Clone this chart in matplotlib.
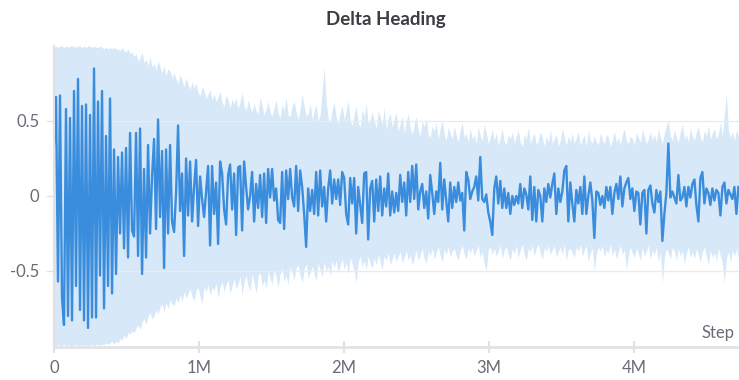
import matplotlib
matplotlib.use("Agg")
import matplotlib.pyplot as plt
import numpy as np
from matplotlib.ticker import FuncFormatter

plt.rcParams["font.family"] = ["Lato", "DejaVu Sans"]
plt.rcParams["axes.unicode_minus"] = False

# mean delta heading, one value every ~14k steps
heading = [
    0.35, 0.66, -0.57, 0.67, -0.68, -0.86, 0.58, -0.80, 0.52, -0.83,
    0.70, -0.60, 0.78, -0.76, 0.60, -0.83, 0.61, -0.88, 0.54, -0.81,
    0.85, -0.81, 0.63, -0.53, 0.70, -0.75, 0.40, -0.60, 0.65, -0.65,
    0.31, -0.52, 0.26, -0.25, 0.29, -0.35, 0.32, -0.41, 0.42, -0.23,
    -0.27, 0.42, -0.40, 0.45, -0.52, 0.18, -0.41, 0.34, -0.25, 0.13,
    0.38, -0.22, 0.51, -0.14, 0.30, -0.48, 0.31, -0.25, 0.34, -0.17,
    -0.24, 0.02, 0.47, -0.10, 0.15, -0.40, 0.25, -0.13, 0.23, -0.17,
    0.06, 0.24, -0.20, 0.13, -0.02, -0.14, 0.03, 0.20, -0.33, 0.20,
    -0.12, 0.09, -0.32, 0.23, 0.15, -0.09, -0.19, 0.14, 0.21, -0.09,
    0.15, -0.26, 0.19, 0.20, -0.23, 0.23, 0.06, -0.09, 0.00, 0.16,
    -0.17, 0.08, -0.08, 0.14, -0.14, 0.15, -0.18, 0.18, -0.01, 0.18,
    -0.03, 0.05, -0.16, -0.18, 0.16, -0.22, 0.17, -0.02, 0.18, -0.01,
    -0.07, 0.20, -0.10, 0.17, 0.06, -0.12, -0.34, 0.05, -0.10, 0.04,
    -0.12, 0.16, -0.13, 0.17, -0.07, 0.06, -0.17, 0.05, 0.17, -0.05,
    0.11, -0.02, 0.11, -0.06, 0.16, 0.12, -0.12, -0.19, 0.12, -0.05,
    0.12, -0.25, 0.06, -0.06, -0.18, 0.15, 0.16, -0.29, 0.05, 0.10,
    -0.17, 0.11, -0.10, 0.13, -0.13, 0.05, -0.07, 0.15, -0.13, 0.03,
    -0.11, 0.02, -0.10, 0.14, -0.04, 0.09, -0.13, 0.16, -0.04, 0.20,
    -0.02, 0.21, -0.09, 0.03, 0.08, -0.08, 0.03, -0.15, 0.14, 0.02,
    -0.12, 0.03, -0.04, 0.22, -0.09, 0.11, -0.03, -0.17, 0.09, -0.08,
    0.06, -0.04, 0.09, -0.03, 0.02, -0.23, 0.16, 0.11, -0.02, 0.03,
    0.06, 0.13, -0.03, 0.26, -0.02, -0.04, 0.01, -0.11, -0.17, -0.26,
    0.05, 0.13, -0.05, 0.10, -0.08, 0.05, -0.08, 0.02, -0.12, 0.00,
    -0.06, 0.00, -0.05, 0.08, -0.08, 0.05, 0.01, -0.09, 0.13, -0.16,
    0.06, -0.17, 0.04, 0.00, -0.17, 0.05, -0.04, 0.08, -0.01, 0.08,
    0.15, -0.12, 0.05, -0.04, 0.03, 0.17, 0.20, -0.17, 0.09, -0.05,
    -0.17, 0.04, -0.05, 0.06, -0.12, 0.13, -0.12, 0.00, 0.09, -0.03,
    -0.28, 0.03, 0.02, -0.06, 0.00, -0.08, 0.06, -0.03, 0.06, -0.12,
    0.02, 0.08, -0.02, 0.13, -0.07, 0.05, 0.09, 0.12, -0.02, 0.05,
    -0.10, 0.03, 0.02, -0.19, 0.02, 0.04, -0.25, 0.04, 0.07, -0.05,
    -0.11, 0.04, -0.04, 0.03, -0.30, -0.12, 0.02, 0.35, -0.01, 0.03,
    -0.01, -0.05, 0.14, -0.03, -0.01, 0.06, -0.07, 0.06, -0.01, 0.08,
    0.11, -0.06, -0.17, 0.12, 0.16, -0.05, 0.05, 0.02, -0.06, 0.05,
    -0.03, 0.04, 0.02, -0.13, 0.06, 0.09, -0.05, 0.04, 0.01, -0.02,
    0.06, -0.12, 0.06,
]

# max / min over runs at the same steps
band_hi = [
    0.99, 1.00, 0.99, 1.00, 1.00, 0.99, 1.00, 0.99, 1.00, 1.00,
    1.00, 0.99, 1.00, 1.00, 0.99, 1.00, 0.99, 1.00, 1.00, 0.99,
    1.00, 0.99, 0.99, 1.00, 0.99, 0.98, 0.99, 0.98, 0.99, 0.98,
    0.99, 0.98, 0.98, 0.97, 0.99, 0.97, 0.96, 0.98, 0.95, 0.96,
    0.93, 0.95, 0.90, 0.92, 0.96, 0.89, 0.91, 0.87, 0.93, 0.86,
    0.88, 0.84, 0.90, 0.86, 0.82, 0.87, 0.80, 0.85, 0.83, 0.79,
    0.82, 0.78, 0.75, 0.81, 0.77, 0.73, 0.79, 0.74, 0.71, 0.76,
    0.72, 0.75, 0.69, 0.67, 0.73, 0.70, 0.65, 0.68, 0.71, 0.64,
    0.68, 0.63, 0.66, 0.70, 0.62, 0.60, 0.67, 0.64, 0.59, 0.65,
    0.61, 0.66, 0.58, 0.63, 0.69, 0.60, 0.57, 0.64, 0.59, 0.56,
    0.62, 0.57, 0.55, 0.66, 0.60, 0.54, 0.58, 0.63, 0.56, 0.53,
    0.59, 0.64, 0.55, 0.52, 0.61, 0.57, 0.66, 0.54, 0.53, 0.60,
    0.63, 0.56, 0.51, 0.58, 0.68, 0.60, 0.53, 0.55, 0.62, 0.51,
    0.57, 0.61, 0.50, 0.54, 0.70, 0.86, 0.63, 0.52, 0.49, 0.58,
    0.62, 0.53, 0.48, 0.56, 0.60, 0.51, 0.57, 0.64, 0.50, 0.47,
    0.55, 0.60, 0.49, 0.46, 0.58, 0.53, 0.62, 0.48, 0.51, 0.56,
    0.50, 0.45, 0.57, 0.53, 0.47, 0.59, 0.44, 0.52, 0.55, 0.46,
    0.51, 0.56, 0.43, 0.48, 0.53, 0.42, 0.50, 0.55, 0.45, 0.41,
    0.48, 0.53, 0.44, 0.40, 0.50, 0.46, 0.52, 0.41, 0.39, 0.47,
    0.43, 0.49, 0.38, 0.45, 0.51, 0.41, 0.37, 0.46, 0.42, 0.38,
    0.47, 0.40, 0.36, 0.44, 0.49, 0.39, 0.42, 0.36, 0.45, 0.38,
    0.41, 0.35, 0.46, 0.40, 0.37, 0.48, 0.42, 0.35, 0.39, 0.44,
    0.37, 0.42, 0.34, 0.39, 0.45, 0.36, 0.34, 0.41, 0.38, 0.43,
    0.35, 0.40, 0.44, 0.36, 0.33, 0.41, 0.38, 0.46, 0.35, 0.39,
    0.42, 0.34, 0.37, 0.43, 0.39, 0.33, 0.40, 0.36, 0.44, 0.35,
    0.38, 0.41, 0.33, 0.37, 0.45, 0.39, 0.34, 0.40, 0.36, 0.42,
    0.35, 0.39, 0.43, 0.34, 0.38, 0.41, 0.33, 0.44, 0.37, 0.35,
    0.40, 0.36, 0.34, 0.42, 0.38, 0.35, 0.41, 0.39, 0.33, 0.37,
    0.43, 0.36, 0.39, 0.34, 0.41, 0.45, 0.37, 0.35, 0.40, 0.38,
    0.34, 0.42, 0.39, 0.36, 0.44, 0.40, 0.35, 0.38, 0.43, 0.37,
    0.41, 0.36, 0.45, 0.39, 0.35, 0.42, 0.47, 0.50, 0.40, 0.37,
    0.44, 0.39, 0.36, 0.43, 0.48, 0.38, 0.41, 0.36, 0.45, 0.40,
    0.37, 0.43, 0.46, 0.39, 0.36, 0.44, 0.40, 0.47, 0.38, 0.42,
    0.45, 0.38, 0.41, 0.49, 0.40, 0.55, 0.68, 0.44, 0.39, 0.43,
    0.37, 0.44, 0.40,
]

band_lo = [
    -0.99, -1.00, -0.99, -1.00, -1.00, -0.99, -1.00, -0.99, -1.00, -1.00,
    -1.00, -0.99, -1.00, -1.00, -0.99, -1.00, -0.99, -1.00, -1.00, -0.99,
    -1.00, -0.99, -0.99, -1.00, -0.99, -0.99, -0.98, -0.99, -0.98, -0.97,
    -0.99, -0.97, -0.98, -0.95, -0.96, -0.93, -0.95, -0.91, -0.92, -0.90,
    -0.91, -0.88, -0.86, -0.89, -0.84, -0.82, -0.86, -0.80, -0.78, -0.82,
    -0.80, -0.76, -0.79, -0.74, -0.72, -0.77, -0.71, -0.75, -0.69, -0.72,
    -0.73, -0.68, -0.71, -0.66, -0.70, -0.64, -0.68, -0.65, -0.62, -0.67,
    -0.70, -0.63, -0.61, -0.67, -0.72, -0.60, -0.64, -0.59, -0.66, -0.61,
    -0.63, -0.58, -0.68, -0.61, -0.57, -0.64, -0.59, -0.56, -0.65, -0.60,
    -0.55, -0.62, -0.58, -0.54, -0.66, -0.57, -0.53, -0.60, -0.63, -0.52,
    -0.58, -0.65, -0.53, -0.51, -0.60, -0.56, -0.62, -0.50, -0.55, -0.59,
    -0.49, -0.54, -0.61, -0.52, -0.48, -0.57, -0.53, -0.59, -0.47, -0.51,
    -0.56, -0.48, -0.46, -0.53, -0.58, -0.49, -0.45, -0.55, -0.51, -0.47,
    -0.52, -0.57, -0.45, -0.49, -0.54, -0.44, -0.50, -0.47, -0.53, -0.43,
    -0.48, -0.43, -0.51, -0.46, -0.42, -0.49, -0.44, -0.52, -0.41, -0.45,
    -0.50, -0.58, -0.44, -0.40, -0.47, -0.43, -0.49, -0.40, -0.45, -0.48,
    -0.41, -0.46, -0.39, -0.44, -0.49, -0.40, -0.43, -0.38, -0.46, -0.42,
    -0.38, -0.44, -0.40, -0.37, -0.45, -0.41, -0.36, -0.43, -0.39, -0.46,
    -0.41, -0.36, -0.43, -0.39, -0.35, -0.42, -0.45, -0.37, -0.40, -0.35,
    -0.42, -0.38, -0.34, -0.40, -0.44, -0.36, -0.39, -0.34, -0.41, -0.37,
    -0.35, -0.40, -0.43, -0.36, -0.33, -0.39, -0.42, -0.35, -0.38, -0.34,
    -0.40, -0.36, -0.33, -0.41, -0.37, -0.45, -0.50, -0.36, -0.34, -0.39,
    -0.35, -0.40, -0.37, -0.33, -0.42, -0.36, -0.34, -0.39, -0.43, -0.35,
    -0.38, -0.33, -0.41, -0.36, -0.32, -0.39, -0.43, -0.35, -0.37, -0.33,
    -0.40, -0.35, -0.32, -0.38, -0.42, -0.34, -0.37, -0.33, -0.39, -0.36,
    -0.33, -0.41, -0.37, -0.34, -0.39, -0.32, -0.43, -0.36, -0.35, -0.38,
    -0.41, -0.34, -0.37, -0.32, -0.40, -0.36, -0.33, -0.44, -0.38, -0.35,
    -0.50, -0.39, -0.34, -0.37, -0.33, -0.41, -0.36, -0.38, -0.32, -0.40,
    -0.35, -0.42, -0.37, -0.33, -0.39, -0.36, -0.49, -0.40, -0.34, -0.38,
    -0.41, -0.35, -0.38, -0.43, -0.34, -0.40, -0.37, -0.33, -0.42, -0.36,
    -0.39, -0.34, -0.44, -0.37, -0.58, -0.41, -0.35, -0.38, -0.42, -0.34,
    -0.37, -0.43, -0.35, -0.40, -0.36, -0.45, -0.38, -0.34, -0.41, -0.37,
    -0.42, -0.35, -0.39, -0.44, -0.37, -0.34, -0.40, -0.46, -0.36, -0.41,
    -0.38, -0.43, -0.35, -0.40, -0.45, -0.58, -0.42, -0.37, -0.44, -0.36,
    -0.40, -0.35, -0.42,
]

last_step = 4.72e6
steps = np.linspace(0, last_step, len(heading))
band_steps = np.linspace(0, last_step, len(band_hi))

line_color = "#3a8ddd"
text_gray = "#6b6b75"
axis_gray = "#e2e2e6"

fig = plt.figure(figsize=(7.39, 3.80), dpi=100)
ax = fig.add_axes([54 / 739, 1 - 347 / 380, 1 - 54 / 739, (347 - 46) / 380])

ax.fill_between(band_steps, band_lo, band_hi, color=line_color, alpha=0.2,
                linewidth=0)
ax.plot(steps, heading, color=line_color, lw=1.7)

ax.set_xlim(0, 4.724e6)
ax.set_ylim(-1.007, 1.0)
ax.set_xticks([0, 1e6, 2e6, 3e6, 4e6])
ax.set_yticks([-0.5, 0, 0.5])
ax.xaxis.set_major_formatter(FuncFormatter(lambda v, p: "0" if v == 0 else f"{v / 1e6:g}M"))
ax.yaxis.set_major_formatter(FuncFormatter(lambda v, p: f"{v:g}"))

ax.grid(axis="y", color="#ebebee", lw=1)
for side in ["top", "right"]:
    ax.spines[side].set_visible(False)
ax.spines["bottom"].set_color(axis_gray)
ax.spines["bottom"].set_linewidth(2)
ax.spines["left"].set_color(axis_gray)
ax.spines["left"].set_linewidth(1.5)

ax.tick_params(axis="x", direction="inout", length=9, width=1.5, color=axis_gray,
               labelsize=12, labelcolor=text_gray, pad=5)
ax.tick_params(axis="y", direction="inout", length=11, width=1, color=axis_gray,
               labelsize=12, labelcolor=text_gray, pad=5)

fig.text(386 / 739, 1 - 25 / 380, "Delta Heading", ha="center", va="baseline",
         fontsize=13.5, fontweight="bold", color="#3c3c42")
fig.text(735 / 739, 1 - 338 / 380, "Step", ha="right", va="baseline",
         fontsize=12, color=text_gray)

fig.savefig("out.png", dpi=100)
